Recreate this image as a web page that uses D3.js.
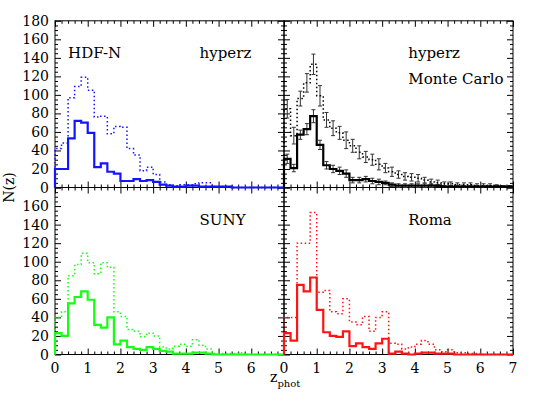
<!DOCTYPE html>
<html>
<head>
<meta charset="utf-8">
<script src="https://cdn.jsdelivr.net/npm/d3@7"></script>
<style>
  html, body { margin: 0; padding: 0; background: #fff; }
  svg { display: block; }
  text { font-family: "DejaVu Serif", serif; fill: #000; }
</style>
</head>
<body>
<div id="chart"></div>
<script>
// bin lower edges (width 0.2 in z_phot)
const binStart = [0, 0.2, 0.4, 0.6, 0.8, 1, 1.2, 1.4, 1.6, 1.8, 2, 2.2, 2.4, 2.6, 2.8,
  3, 3.2, 3.4, 3.6, 3.8, 4, 4.2, 4.4, 4.6, 4.8, 5, 5.2, 5.4, 5.6, 5.8, 6, 6.2, 6.4, 6.6, 6.8];
const binWidth = 0.2;

// HDF-N / hyperz
const hdfSolid = [20, 20, 53, 72, 70, 59, 22, 26, 17, 15, 7, 7, 9, 7, 8, 6, 3, 2, 1, 1,
  2, 2, 1, 1, 1, 1, 1, 0, 0, 0, 0, 0, 0, 0, 0];
const hdfDotted = [42, 48, 97, 109, 119, 105, 76, 77, 58, 66, 65, 42, 35, 18, 22, 14, 6, 3, 2, 3,
  3, 4, 5, 5, 1, 1, 1, 0, 0, 0, 0, 0, 0, 0, 0];

// hyperz Monte Carlo
const mcSolid = [31, 21, 57, 63, 77, 46, 24, 20, 18, 15, 8, 8, 9, 7, 6, 5, 3, 2, 2, 2,
  2, 2, 2, 2, 1, 1, 1, 1, 1, 1, 1, 1, 1, 1, 1];
const mcSolidErr = [5, 4, 5, 6, 7, 5, 4, 4, 4, 4, 3, 3, 3, 3, 3, 2, 2, 2, 2, 2,
  2, 2, 2, 1, 1, 1, 1, 1, 1, 1, 1, 1, 1, 1, 1];
const mcDotted = [85, 56, 96, 113, 133, 99, 73, 64, 59, 51, 45, 38, 33, 30, 25, 21, 17, 14, 12, 11,
  10, 8, 6, 5, 4, 4, 3, 3, 3, 2, 2, 2, 2, 1, 1];
const mcDottedErr = [10, 9, 8, 10, 11, 11, 8, 8, 7, 9, 7, 7, 6, 6, 6, 5, 5, 4, 4, 4,
  4, 3, 3, 3, 2, 2, 2, 2, 2, 2, 2, 2, 1, 1, 1];

// SUNY
const sunySolid = [23, 20, 55, 62, 68, 59, 32, 29, 40, 11, 15, 8, 6, 5, 8, 6, 4, 3, 1, 1,
  1, 2, 2, 1, 0, 0, 0, 0, 0, 0, 0, 0, 0, 0, 0];
const sunyDotted = [40, 46, 85, 97, 109, 99, 87, 99, 94, 46, 41, 27, 25, 19, 23, 20, 8, 6, 9, 11,
  9, 16, 10, 6, 1, 1, 1, 1, 2, 0, 0, 0, 0, 0, 0];

// Roma
const romaSolid = [23, 15, 75, 68, 83, 48, 24, 20, 19, 25, 9, 12, 8, 6, 12, 17, 1, 3, 1, 0,
  1, 2, 2, 1, 1, 1, 0, 0, 0, 0, 0, 0, 0, 0, 0];
const romaDotted = [40, 40, 120, 120, 153, 67, 69, 46, 44, 60, 35, 32, 41, 25, 40, 46, 12, 11, 6, 8,
  11, 15, 11, 5, 3, 5, 2, 2, 1, 1, 0, 0, 0, 0, 0];

// ticks and labels
const xMajor = [0, 1, 2, 3, 4, 5, 6, 7];
const yMajor = [0, 20, 40, 60, 80, 100, 120, 140, 160, 180];
const leftXLabels = [0, 1, 2, 3, 4, 5, 6];
const rightXLabels = [0, 1, 2, 3, 4, 5, 6, 7];
const topYLabels = [0, 20, 40, 60, 80, 100, 120, 140, 160, 180];
const bottomYLabels = [0, 20, 40, 60, 80, 100, 120, 140, 160];

const width = 545;
const height = 407;
const zMax = 7;
const nMax = 180;

const svg = d3.select("#chart")
  .append("svg")
  .attr("width", width)
  .attr("height", height)
  .attr("viewBox", [0, 0, width, height]);

const xLeft = d3.scaleLinear().domain([0, zMax]).range([55, 284]);
const xRight = d3.scaleLinear().domain([0, zMax]).range([284, 513]);
const yTop = d3.scaleLinear().domain([0, nMax]).range([187.5, 20.8]);
const yBottom = d3.scaleLinear().domain([0, nMax]).range([354.5, 187.5]);

const xMinor = d3.range(0, zMax + 0.001, 0.2).filter((v) => Math.abs(v - Math.round(v)) > 1e-6);
const yMinor = d3.range(0, nMax + 0.001, 5).filter((v) => v % 20 !== 0);

const panels = [
  {
    x: xLeft, y: yTop, color: "#1414ff",
    solid: hdfSolid, dotted: hdfDotted,
    yLabels: topYLabels, xLabels: null,
    texts: [{ t: "HDF-N", z: 0.4, n: 140 }, { t: "hyperz", z: 4.42, n: 140 }],
  },
  {
    x: xRight, y: yTop, color: "#000",
    solid: mcSolid, dotted: mcDotted, solidErr: mcSolidErr, dottedErr: mcDottedErr,
    yLabels: null, xLabels: null,
    texts: [{ t: "hyperz", z: 3.8, n: 140 }, { t: "Monte Carlo", z: 3.8, n: 112 }],
  },
  {
    x: xLeft, y: yBottom, color: "#14ff14",
    solid: sunySolid, dotted: sunyDotted,
    yLabels: bottomYLabels, xLabels: leftXLabels,
    texts: [{ t: "SUNY", z: 4.42, n: 140 }],
  },
  {
    x: xRight, y: yBottom, color: "#ff1414",
    solid: romaSolid, dotted: romaDotted,
    yLabels: null, xLabels: rightXLabels,
    texts: [{ t: "Roma", z: 3.8, n: 140 }],
  },
];

panels.forEach(drawFrame);
panels.forEach(drawHistograms);

function drawFrame(p) {
  const g = svg.append("g");
  const [x0, x1] = p.x.range();
  const [y0, y1] = p.y.range();

  g.append("rect")
    .attr("x", x0)
    .attr("y", y1)
    .attr("width", x1 - x0)
    .attr("height", y0 - y1)
    .attr("fill", "none")
    .attr("stroke", "#000")
    .attr("stroke-width", 1);

  // inward ticks on all four sides
  const tickSets = [
    [d3.axisBottom(p.x).tickValues(xMajor).tickSize(-6), `translate(0,${y0})`],
    [d3.axisBottom(p.x).tickValues(xMinor).tickSize(-3), `translate(0,${y0})`],
    [d3.axisTop(p.x).tickValues(xMajor).tickSize(-6), `translate(0,${y1})`],
    [d3.axisTop(p.x).tickValues(xMinor).tickSize(-3), `translate(0,${y1})`],
    [d3.axisLeft(p.y).tickValues(yMajor).tickSize(-6), `translate(${x0},0)`],
    [d3.axisLeft(p.y).tickValues(yMinor).tickSize(-3), `translate(${x0},0)`],
    [d3.axisRight(p.y).tickValues(yMajor).tickSize(-6), `translate(${x1},0)`],
    [d3.axisRight(p.y).tickValues(yMinor).tickSize(-3), `translate(${x1},0)`],
  ];
  tickSets.forEach(([axis, tr]) => {
    g.append("g")
      .attr("transform", tr)
      .call(axis.tickSizeOuter(0).tickFormat(""))
      .call((a) => a.select(".domain").remove())
      .call((a) => a.selectAll("line").attr("stroke", "#000").attr("stroke-width", 1));
  });

  if (p.yLabels) {
    g.append("g")
      .selectAll("text")
      .data(p.yLabels)
      .join("text")
      .attr("x", x0 - 6)
      .attr("y", (d) => p.y(d))
      .attr("dy", "0.36em")
      .attr("text-anchor", "end")
      .attr("font-size", 14)
      .text((d) => d);
  }

  if (p.xLabels) {
    g.append("g")
      .selectAll("text")
      .data(p.xLabels)
      .join("text")
      .attr("x", (d) => p.x(d))
      .attr("y", y0 + 18)
      .attr("text-anchor", "middle")
      .attr("font-size", 14)
      .text((d) => d);
  }

  g.append("g")
    .selectAll("text")
    .data(p.texts)
    .join("text")
    .attr("x", (d) => p.x(d.z))
    .attr("y", (d) => p.y(d.n))
    .attr("font-size", 15)
    .text((d) => d.t);
}

function stepPath(p, values) {
  const pts = [[0, 0]];
  values.forEach((v, i) => pts.push([binStart[i], v]));
  pts.push([zMax, values[values.length - 1]]);
  return d3.line()
    .x((d) => p.x(d[0]))
    .y((d) => p.y(d[1]))
    .curve(d3.curveStepAfter)(pts);
}

function drawErrors(g, p, values, errs) {
  const cap = 2;
  const bars = g.append("g")
    .attr("stroke", "#333")
    .attr("stroke-width", 1)
    .selectAll("g")
    .data(values.map((v, i) => ({ z: binStart[i] + binWidth / 2, v, e: errs[i] })))
    .join("g");
  bars.append("line")
    .attr("x1", (d) => p.x(d.z))
    .attr("x2", (d) => p.x(d.z))
    .attr("y1", (d) => p.y(Math.max(0, d.v - d.e)))
    .attr("y2", (d) => p.y(d.v + d.e));
  bars.append("line")
    .attr("x1", (d) => p.x(d.z) - cap)
    .attr("x2", (d) => p.x(d.z) + cap)
    .attr("y1", (d) => p.y(d.v + d.e))
    .attr("y2", (d) => p.y(d.v + d.e));
  bars.append("line")
    .attr("x1", (d) => p.x(d.z) - cap)
    .attr("x2", (d) => p.x(d.z) + cap)
    .attr("y1", (d) => p.y(Math.max(0, d.v - d.e)))
    .attr("y2", (d) => p.y(Math.max(0, d.v - d.e)));
}

function drawHistograms(p) {
  const g = svg.append("g");

  if (p.dottedErr) drawErrors(g, p, p.dotted, p.dottedErr);
  if (p.solidErr) drawErrors(g, p, p.solid, p.solidErr);

  g.append("path")
    .attr("d", stepPath(p, p.dotted))
    .attr("fill", "none")
    .attr("stroke", p.color)
    .attr("stroke-width", 1.5)
    .attr("stroke-dasharray", "1.5,2.5");

  g.append("path")
    .attr("d", stepPath(p, p.solid))
    .attr("fill", "none")
    .attr("stroke", p.color)
    .attr("stroke-width", 2.2);
}

// axis titles
svg.append("text")
  .attr("transform", `translate(14,${yTop(0)}) rotate(-90)`)
  .attr("text-anchor", "middle")
  .attr("font-size", 14)
  .text("N(z)");

const xTitle = svg.append("text")
  .attr("x", xRight(0) - 14)
  .attr("y", 382)
  .attr("font-size", 14);
xTitle.append("tspan").text("z");
xTitle.append("tspan")
  .attr("dy", 5)
  .attr("font-size", 10)
  .text("phot");
</script>
</body>
</html>
